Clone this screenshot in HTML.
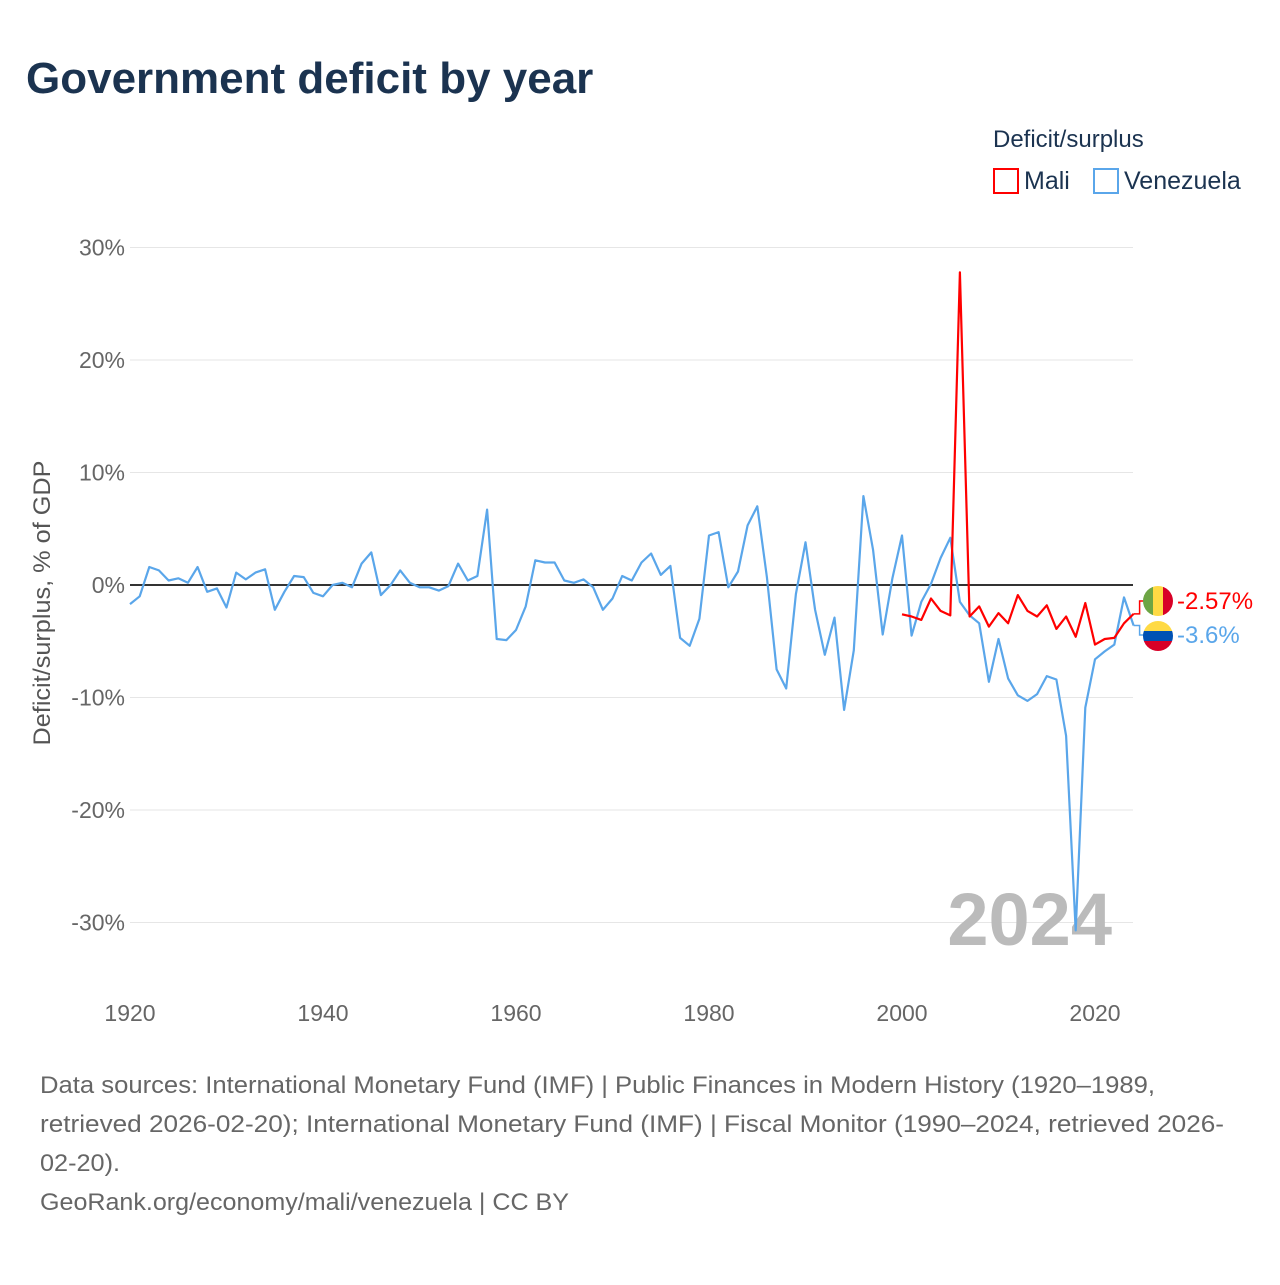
<!DOCTYPE html>
<html><head><meta charset="utf-8"><style>
body{margin:0;background:#fff;font-family:"Liberation Sans",sans-serif}
svg text{font-family:"Liberation Sans",sans-serif}
</style></head><body>
<svg id="chart" width="1280" height="1280" viewBox="0 0 1280 1280">
<text x="26" y="93" font-size="44" font-weight="bold" fill="#1b3350">Government deficit by year</text>
<text x="993" y="147" font-size="24" fill="#1b3350">Deficit/surplus</text>
<g><rect x="994" y="169" width="24" height="24" fill="none" stroke="#f00" stroke-width="2"/><text x="1024" y="189" font-size="25" fill="#1b3350">Mali</text></g>
<g><rect x="1094" y="169" width="24" height="24" fill="none" stroke="#5aa6ea" stroke-width="2"/><text x="1124" y="189" font-size="25" fill="#1b3350">Venezuela</text></g>
<g id="grid"></g>
<g id="yticks"></g>
<g id="xticks"></g>
<text transform="translate(50,603) rotate(-90)" text-anchor="middle" font-size="24" fill="#555" textLength="285" lengthAdjust="spacingAndGlyphs">Deficit/surplus, % of GDP</text>
<text x="1112" y="945" text-anchor="end" font-size="74" font-weight="bold" fill="#bbb">2024</text>
<g id="series"></g>
<g id="labels"></g>
<g font-size="24" fill="#666">
<text x="40" y="1093" textLength="1115" lengthAdjust="spacingAndGlyphs">Data sources: International Monetary Fund (IMF) | Public Finances in Modern History (1920–1989,</text>
<text x="40" y="1132" textLength="1184" lengthAdjust="spacingAndGlyphs">retrieved 2026-02-20); International Monetary Fund (IMF) | Fiscal Monitor (1990–2024, retrieved 2026-</text>
<text x="40" y="1171" textLength="80" lengthAdjust="spacingAndGlyphs">02-20).</text>
<text x="40" y="1210" textLength="529" lengthAdjust="spacingAndGlyphs">GeoRank.org/economy/mali/venezuela | CC BY</text>
</g>
</svg>
<script>
const yTicks=[30,20,10,0,-10,-20,-30];
const yTickLabels=["30%","20%","10%","0%","-10%","-20%","-30%"];
const xTicks=[1920,1940,1960,1980,2000,2020];
const venStart=1920;
const venezuela=[-1.7,-1.0,1.6,1.3,0.4,0.6,0.2,1.6,-0.6,-0.3,-2.0,1.1,0.5,1.1,1.4,-2.2,-0.6,0.8,0.7,-0.7,-1.0,0.0,0.2,-0.2,1.9,2.9,-0.9,0.0,1.3,0.2,-0.2,-0.2,-0.5,-0.1,1.9,0.4,0.8,6.7,-4.8,-4.9,-4.0,-1.9,2.2,2.0,2.0,0.4,0.2,0.5,-0.2,-2.2,-1.2,0.8,0.4,2.0,2.8,0.9,1.7,-4.7,-5.4,-3.0,4.4,4.7,-0.2,1.2,5.3,7.0,0.7,-7.5,-9.2,-0.8,3.8,-2.2,-6.2,-2.9,-11.1,-5.8,7.9,3.1,-4.4,0.6,4.4,-4.5,-1.5,0.1,2.4,4.2,-1.5,-2.7,-3.4,-8.6,-4.8,-8.3,-9.8,-10.3,-9.7,-8.1,-8.4,-13.4,-30.7,-10.9,-6.6,-5.9,-5.3,-1.1,-3.6];
const maliStart=2000;
const mali=[-2.6,-2.8,-3.1,-1.2,-2.3,-2.7,27.8,-2.8,-1.9,-3.7,-2.5,-3.4,-0.9,-2.3,-2.8,-1.8,-3.9,-2.8,-4.6,-1.6,-5.3,-4.8,-4.7,-3.4,-2.57];
const endLabels=["-2.57%","-3.6%"];
const NS="http://www.w3.org/2000/svg";
const X=y=>130+(y-1920)*9.65;
const Y=v=>585-v*11.25;
function mk(tag,attrs,parent){const e=document.createElementNS(NS,tag);for(const k in attrs)e.setAttribute(k,attrs[k]);parent.appendChild(e);return e;}
const grid=document.getElementById('grid'),yt=document.getElementById('yticks'),xt=document.getElementById('xticks');
yTicks.forEach((v,i)=>{
 const l=mk('line',{x1:130,x2:1133,y1:Y(v),y2:Y(v),stroke:v===0?'#333':'#e6e6e6','stroke-width':v===0?2:1},grid);
 
 
 const t=mk('text',{x:125,y:Y(v)+8,'text-anchor':'end','font-size':23,fill:'#666'},yt);
 t.textContent=yTickLabels[i];
 
 
});
xTicks.forEach(v=>{
 const t=mk('text',{x:X(v),y:1021,'text-anchor':'middle','font-size':23,fill:'#666'},xt);
 t.textContent=v;
 
 
});
const s=document.getElementById('series');
function line(data,start,color,name){
 const d=data.map((v,i)=>(i?'L':'M')+X(start+i).toFixed(1)+','+Y(v).toFixed(1)).join('');
 const p=mk('path',{d:d,fill:'none',stroke:color,'stroke-width':2.2,'stroke-linejoin':'round'},s);
 
 
}
line(venezuela,venStart,'#5aa6ea','line-venezuela');
line(mali,maliStart,'#f00','line-mali');
const lb=document.getElementById('labels');
const lastM=mali[mali.length-1],lastV=venezuela[venezuela.length-1];
const ex=X(2024);
const conn=[[Y(lastM),601,'#f00'],[Y(lastV),635,'#5aa6ea']];
conn.forEach(c=>{const p=mk('path',{d:`M${ex},${c[0]}H${ex+6}V${c[1]}H${ex+12}`,fill:'none',stroke:c[2],'stroke-width':1.5},lb);
 
 });
const fm=mk('g',{},lb);


mk('clipPath',{id:'c1'},fm).appendChild(document.createElementNS(NS,'circle'));
const c1=document.querySelector('#c1 circle');c1.setAttribute('cx',1158);c1.setAttribute('cy',601);c1.setAttribute('r',15);
const gm=mk('g',{'clip-path':'url(#c1)'},fm);
mk('rect',{x:1143,y:586,width:10,height:30,fill:'#6da544'},gm);
mk('rect',{x:1153,y:586,width:10,height:30,fill:'#ffda44'},gm);
mk('rect',{x:1163,y:586,width:10,height:30,fill:'#d80027'},gm);
const fv=mk('g',{},lb);


mk('clipPath',{id:'c2'},fv).appendChild(document.createElementNS(NS,'circle'));
const c2=document.querySelector('#c2 circle');c2.setAttribute('cx',1158);c2.setAttribute('cy',636);c2.setAttribute('r',15);
const gv=mk('g',{'clip-path':'url(#c2)'},fv);
mk('rect',{x:1143,y:621,width:30,height:10,fill:'#ffda44'},gv);
mk('rect',{x:1143,y:631,width:30,height:10,fill:'#0052b4'},gv);
mk('rect',{x:1143,y:641,width:30,height:10,fill:'#d80027'},gv);
const t1=mk('text',{x:1177,y:609,'font-size':24,fill:'#f00'},lb);t1.textContent=endLabels[0];


const t2=mk('text',{x:1177,y:643,'font-size':24,fill:'#5aa6ea'},lb);t2.textContent=endLabels[1];


</script>
</body></html>
